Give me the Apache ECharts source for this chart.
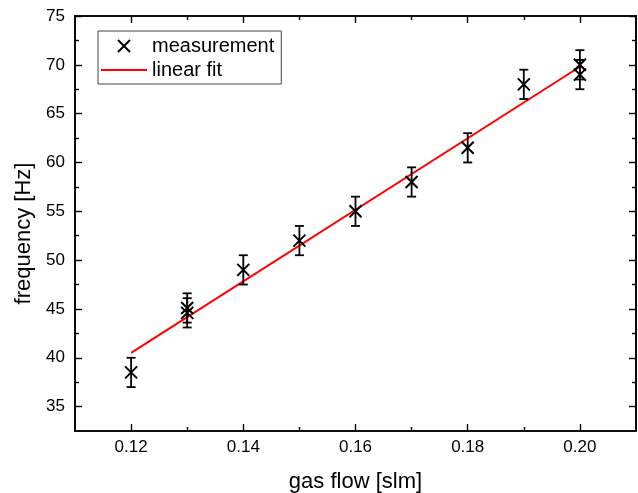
<!DOCTYPE html>
<html>
<head>
<meta charset="utf-8">
<script src="https://cdn.jsdelivr.net/npm/echarts@6/dist/echarts.min.js"></script>
<style>
  html, body { margin: 0; padding: 0; background: #fff; }
  #chart { width: 638px; height: 493px; }
</style>
</head>
<body>
<div id="chart"></div>
<script>
// measured points (gas flow in slm, frequency in Hz)
const flow = [0.12, 0.13, 0.13, 0.14, 0.15, 0.16, 0.17, 0.18, 0.19, 0.20, 0.20];
const freq = [38.5, 45.1, 44.6, 49, 52, 55, 58, 61.5, 68, 70, 69];
const freqErr = [1.5, 1.5, 1.5, 1.5, 1.5, 1.5, 1.5, 1.5, 1.5, 1.5, 1.5];

// linear fit end points
const fitFlow = [0.12, 0.20];
const fitFreq = [40.5, 69.8];

// tick positions
const xMajor = [0.12, 0.14, 0.16, 0.18, 0.20];
const xMinor = [0.13, 0.15, 0.17, 0.19];
const yMajor = [35, 40, 45, 50, 55, 60, 65, 70, 75];
const yMinor = [37.5, 42.5, 47.5, 52.5, 57.5, 62.5, 67.5, 72.5];

const font = 'Liberation Sans, Arial, sans-serif';
const crossPath = 'path://M0,0L10,10M10,0L0,10';

const chart = echarts.init(document.getElementById('chart'));

function xAx(pos, ticks, len, withLabels, extra) {
  return Object.assign({
    type: 'value',
    position: pos,
    min: 0.11,
    max: 0.21,
    axisLine: { show: true, onZero: false, lineStyle: { color: '#000', width: 1.6 } },
    axisTick: { show: true, inside: true, length: len, customValues: ticks,
      lineStyle: { color: '#000', width: 1.4 } },
    axisLabel: withLabels ? {
      show: true, customValues: xMajor, margin: 8,
      color: '#000', fontSize: 17, fontFamily: font,
      formatter: v => v.toFixed(2)
    } : { show: false },
    splitLine: { show: false }
  }, extra || {});
}

function yAx(pos, ticks, len, withLabels, extra) {
  return Object.assign({
    type: 'value',
    position: pos,
    min: 32.5,
    max: 75,
    axisLine: { show: true, onZero: false, lineStyle: { color: '#000', width: 1.6 } },
    axisTick: { show: true, inside: true, length: len, customValues: ticks,
      lineStyle: { color: '#000', width: 1.4 } },
    axisLabel: withLabels ? {
      show: true, customValues: yMajor, margin: 10,
      color: '#000', fontSize: 17, fontFamily: font
    } : { show: false },
    splitLine: { show: false }
  }, extra || {});
}

const option = {
  backgroundColor: '#fff',
  animation: false,
  grid: { left: 75, right: 2, top: 16, bottom: 62, outerBoundsMode: 'none' },
  legend: {
    orient: 'vertical',
    left: 98,
    top: 31,
    padding: [5, 7, 4, 3],
    itemGap: 4,
    itemWidth: 46,
    itemHeight: 12,
    borderColor: '#444',
    borderWidth: 1,
    textStyle: { color: '#000', fontSize: 20, fontFamily: font },
    data: [
      { name: 'measurement' },
      { name: 'linear fit', icon: 'path://M0,0H46V2H0Z', itemStyle: { color: '#ff0000' } }
    ]
  },
  xAxis: [
    xAx('bottom', xMajor, 7, true, {
      name: 'gas flow [slm]', nameLocation: 'middle', nameGap: 40,
      nameTextStyle: { color: '#000', fontSize: 22, fontFamily: font }
    }),
    xAx('bottom', xMinor, 4, false),
    xAx('top', xMajor, 7, false),
    xAx('top', xMinor, 4, false)
  ],
  yAxis: [
    yAx('left', yMajor, 7, true, {
      name: 'frequency [Hz]', nameLocation: 'middle', nameGap: 32,
      nameTextStyle: { color: '#000', fontSize: 22, fontFamily: font, padding: [0, 20, 0, 0] }
    }),
    yAx('left', yMinor, 4, false),
    yAx('right', yMajor, 7, false),
    yAx('right', yMinor, 4, false)
  ],
  series: [
    {
      name: 'linear fit',
      type: 'line',
      data: fitFlow.map((x, i) => [x, fitFreq[i]]),
      symbol: 'none',
      lineStyle: { color: '#ff0000', width: 2 },
      itemStyle: { color: '#ff0000' },
      z: 3
    },
    {
      name: 'errors',
      type: 'custom',
      data: flow.map((x, i) => [x, freq[i], freqErr[i]]),
      renderItem: function (params, api) {
        const x = api.value(0), y = api.value(1), e = api.value(2);
        const top = api.coord([x, y + e]);
        const bot = api.coord([x, y - e]);
        const w = 4.5;
        const st = { stroke: '#000', lineWidth: 1.8 };
        return {
          type: 'group',
          children: [
            { type: 'line', shape: { x1: top[0], y1: top[1], x2: bot[0], y2: bot[1] }, style: st },
            { type: 'line', shape: { x1: top[0] - w, y1: top[1], x2: top[0] + w, y2: top[1] }, style: st },
            { type: 'line', shape: { x1: bot[0] - w, y1: bot[1], x2: bot[0] + w, y2: bot[1] }, style: st }
          ]
        };
      },
      z: 4
    },
    {
      name: 'measurement',
      type: 'scatter',
      data: flow.map((x, i) => [x, freq[i]]),
      symbol: crossPath,
      symbolSize: 12,
      itemStyle: { color: 'none', borderColor: '#000', borderWidth: 2, opacity: 1 },
      z: 5
    }
  ]
};

chart.setOption(option);
</script>
</body>
</html>
